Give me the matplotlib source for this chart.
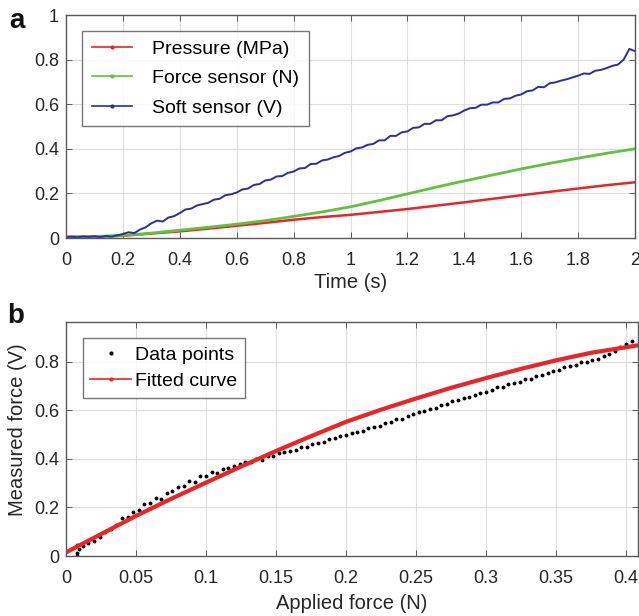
import numpy as np
import matplotlib
matplotlib.use("Agg")
import matplotlib.pyplot as plt
from matplotlib.lines import Line2D
from matplotlib.ticker import FuncFormatter

plt.rcParams['font.family'] = ['Liberation Sans', 'DejaVu Sans']

# ---------------- Panel a data ----------------
time_blue = [round(i * 0.02, 2) for i in range(101)]
soft_sensor = [0.004, 0.006, 0.003, 0.007, 0.005, 0.008, 0.004, 0.009, 0.006, 0.012,
               0.018, 0.026, 0.022, 0.038, 0.048, 0.066, 0.078, 0.074, 0.092, 0.098,
               0.112, 0.128, 0.132, 0.146, 0.152, 0.158, 0.172, 0.176, 0.192, 0.196,
               0.204, 0.218, 0.222, 0.238, 0.242, 0.258, 0.262, 0.276, 0.278, 0.292,
               0.298, 0.312, 0.314, 0.332, 0.333, 0.348, 0.352, 0.362, 0.368, 0.382,
               0.388, 0.402, 0.406, 0.418, 0.422, 0.438, 0.438, 0.458, 0.458, 0.474,
               0.478, 0.494, 0.496, 0.512, 0.512, 0.528, 0.528, 0.546, 0.55, 0.558,
               0.572, 0.582, 0.584, 0.598, 0.598, 0.608, 0.608, 0.624, 0.626, 0.638,
               0.644, 0.658, 0.662, 0.678, 0.676, 0.694, 0.698, 0.706, 0.712, 0.72,
               0.728, 0.738, 0.736, 0.75, 0.754, 0.762, 0.772, 0.778, 0.8, 0.848,
               0.838]

time_smooth = [round(i * 0.1, 1) for i in range(21)]
pressure = [0.005, 0.006, 0.01, 0.02, 0.03, 0.042, 0.055, 0.068, 0.082, 0.094,
            0.104, 0.117, 0.13, 0.145, 0.16, 0.176, 0.192, 0.207, 0.222, 0.237, 0.25]
force_sensor = [0.005, 0.007, 0.012, 0.022, 0.035, 0.048, 0.062, 0.078, 0.097, 0.117,
                0.14, 0.168, 0.198, 0.228, 0.256, 0.283, 0.31, 0.335, 0.358, 0.38, 0.40]

# ---------------- Panel b data ----------------
applied_force = [0.008, 0.008, 0.009, 0.008, 0.012, 0.016, 0.020, 0.024, 0.028, 0.032,
                 0.036, 0.040, 0.044, 0.048, 0.052, 0.056, 0.060, 0.064, 0.068, 0.072,
                 0.076, 0.080, 0.084, 0.088, 0.092, 0.096, 0.100, 0.104, 0.108, 0.112,
                 0.116, 0.120, 0.124, 0.128, 0.132, 0.136, 0.140, 0.144, 0.148, 0.152,
                 0.156, 0.160, 0.164, 0.168, 0.172, 0.176, 0.180, 0.184, 0.188, 0.192,
                 0.196, 0.200, 0.204, 0.208, 0.212, 0.216, 0.220, 0.224, 0.228, 0.232,
                 0.236, 0.240, 0.244, 0.248, 0.252, 0.256, 0.260, 0.264, 0.268, 0.272,
                 0.276, 0.280, 0.284, 0.288, 0.292, 0.296, 0.300, 0.304, 0.308, 0.312,
                 0.316, 0.320, 0.324, 0.328, 0.332, 0.336, 0.340, 0.344, 0.348, 0.352,
                 0.356, 0.360, 0.364, 0.368, 0.372, 0.376, 0.380, 0.384, 0.388, 0.392,
                 0.396, 0.400, 0.404]
measured_force = [0.0, 0.012, 0.03, 0.045, 0.04, 0.055, 0.062, 0.08, 0.1, 0.112,
                  0.128, 0.155, 0.16, 0.182, 0.188, 0.212, 0.218, 0.238, 0.236, 0.258,
                  0.266, 0.284, 0.286, 0.308, 0.306, 0.328, 0.328, 0.344, 0.342, 0.358,
                  0.362, 0.372, 0.378, 0.388, 0.386, 0.398, 0.396, 0.41, 0.41, 0.422,
                  0.426, 0.432, 0.436, 0.448, 0.45, 0.462, 0.466, 0.47, 0.482, 0.484,
                  0.492, 0.496, 0.506, 0.51, 0.516, 0.526, 0.53, 0.535, 0.546, 0.55,
                  0.562, 0.565, 0.578, 0.584, 0.592, 0.596, 0.606, 0.61, 0.622, 0.626,
                  0.636, 0.64, 0.652, 0.654, 0.662, 0.672, 0.676, 0.682, 0.694, 0.696,
                  0.708, 0.71, 0.716, 0.728, 0.73, 0.742, 0.746, 0.752, 0.762, 0.766,
                  0.778, 0.782, 0.786, 0.798, 0.8, 0.806, 0.812, 0.824, 0.832, 0.842,
                  0.858, 0.874, 0.886]

fit_force = [0.0, 0.025, 0.05, 0.075, 0.1, 0.125, 0.15, 0.175, 0.2, 0.225,
             0.25, 0.275, 0.3, 0.325, 0.35, 0.375, 0.41]
fit_measured = [0.015, 0.09, 0.165, 0.235, 0.302, 0.368, 0.432, 0.493, 0.552, 0.602,
                0.648, 0.692, 0.732, 0.77, 0.805, 0.836, 0.868]

# ---------------- Style ----------------
RED = '#e8252b'
GREEN = '#62c040'
BLUE = '#2b2f9a'
AX_C = '#5a5a5a'
TXT = '#262626'

def fmt(v, pos):
    return '%g' % round(v, 4)

def style_axes(ax):
    for s in ax.spines.values():
        s.set_color(AX_C)
        s.set_linewidth(1.0)
    ax.tick_params(direction='in', top=True, right=True, length=4, width=0.7,
                   colors=AX_C, labelcolor=TXT, labelsize=13)
    ax.tick_params(axis='x', pad=10)
    ax.tick_params(axis='y', pad=5)
    ax.grid(True, color='#dedede', linewidth=0.8)
    ax.set_axisbelow(True)
    ax.xaxis.set_major_formatter(FuncFormatter(fmt))
    ax.yaxis.set_major_formatter(FuncFormatter(fmt))

fig = plt.figure(figsize=(6.39, 6.16), dpi=100)

# ---------------- Panel a ----------------
ax1 = fig.add_axes([0.1033, 0.6136, 0.8905, 0.362])
ax1.plot(time_smooth, pressure, color=RED, lw=1.8)
ax1.plot(time_smooth, force_sensor, color=GREEN, lw=2.0)
ax1.plot(time_blue, soft_sensor, color=BLUE, lw=1.4)
ax1.set_xlim(0, 2)
ax1.set_ylim(0, 1)
ax1.set_xticks(np.arange(0, 2.01, 0.2))
ax1.set_yticks(np.arange(0, 1.01, 0.2))
style_axes(ax1)
ax1.set_xlabel('Time (s)', fontsize=14.5, color=TXT, labelpad=3)
h1 = [Line2D([], [], color=RED, lw=1.2, marker='.', ms=4),
      Line2D([], [], color=GREEN, lw=1.2, marker='.', ms=4),
      Line2D([], [], color=BLUE, lw=1.2, marker='.', ms=4)]
leg1 = ax1.legend(h1, ['Pressure (MPa)', 'Force sensor (N)', 'Soft sensor (V)'],
                  loc='upper left', bbox_to_anchor=(0.028, 0.93), fontsize=14,
                  frameon=True, fancybox=False, edgecolor='#555555',
                  handlelength=2.1, borderpad=0.5, labelspacing=0.6,
                  handletextpad=1.0, borderaxespad=0)
leg1.get_frame().set_linewidth(1.0)
fig.text(0.014, 0.955, 'a', fontsize=20, fontweight='bold', color='#111111')

# ---------------- Panel b ----------------
ax2 = fig.add_axes([0.1033, 0.0974, 0.8944, 0.380])
ax2.plot(applied_force, measured_force, linestyle='none', marker='o', ms=1.8,
         color='black')
ax2.plot(fit_force, fit_measured, color=RED, lw=3.0)
ax2.set_xlim(0, 0.4082)
ax2.set_ylim(0, 0.963)
ax2.set_xticks(np.arange(0, 0.401, 0.05))
ax2.set_yticks(np.arange(0, 0.81, 0.2))
style_axes(ax2)
ax2.set_xlabel('Applied force (N)', fontsize=14.5, color=TXT, labelpad=5)
ax2.set_ylabel('Measured force (V)', fontsize=14.5, color=TXT)
ax2.yaxis.set_label_coords(-0.068, 0.54)
h2 = [Line2D([], [], linestyle='none', color='black', marker='.', ms=4),
      Line2D([], [], color=RED, lw=1.2, marker='.', ms=4)]
leg2 = ax2.legend(h2, ['Data points', 'Fitted curve'],
                  loc='upper left', bbox_to_anchor=(0.029, 0.93), fontsize=14,
                  frameon=True, fancybox=False, edgecolor='#555555',
                  handlelength=2.1, borderpad=0.4, labelspacing=0.45,
                  handletextpad=0.2, borderaxespad=0)
leg2.get_frame().set_linewidth(1.0)
fig.text(0.012, 0.475, 'b', fontsize=20, fontweight='bold', color='#111111')

fig.savefig('out.png', dpi=100)
